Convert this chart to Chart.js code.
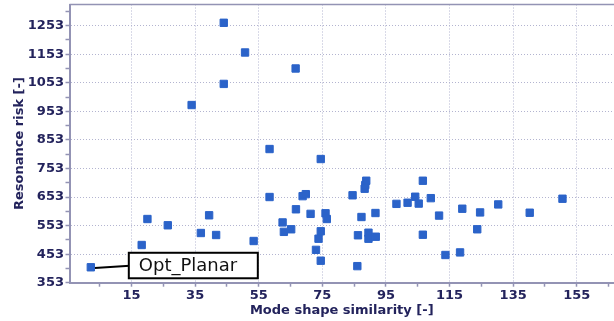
<!DOCTYPE html>
<html>
<head>
<meta charset="utf-8">
<script src="https://cdn.jsdelivr.net/npm/chart.js@4"></script>
<style>
  html, body { margin: 0; padding: 0; background: #fff; overflow: hidden; }
  canvas { display: block; }
</style>
</head>
<body>
<canvas id="chart" width="614" height="321"></canvas>
<script>
// ===== Mode shape similarity vs resonance risk =====

// One entry per design variant (first one is the planar optimum)
const similarity = [2.2, 18.2, 20.0, 26.4, 33.9, 36.8, 39.4, 41.6, 44.0, 44.0,
    50.7, 53.4, 58.4, 58.4, 62.5, 62.9, 65.2, 66.6, 66.7, 68.8,
    69.8, 71.3, 73.0, 73.8, 74.5, 74.5, 74.5, 76.0, 76.4, 84.5,
    86.0, 86.2, 87.3, 88.3, 88.5, 88.8, 89.5, 89.5, 91.7, 91.8,
    98.3, 101.8, 104.2, 105.3, 106.6, 106.6, 109.1, 111.7, 113.7, 118.3,
    119.0, 123.7, 124.6, 130.3, 140.2, 150.5];
const risk = [407, 485, 576, 554, 975, 527, 589, 520, 1263, 1049,
    1159, 499, 653, 821, 564, 531, 540, 1103, 610, 656,
    663, 594, 468, 507, 533, 430, 786, 596, 576, 659,
    411, 519, 583, 682, 695, 710, 528, 507, 597, 514,
    629, 633, 654, 630, 710, 521, 649, 588, 450, 459,
    612, 540, 599, 627, 598, 647];
const calloutIndex = 0;
const calloutText = "Opt_Planar";

// Axis ticks: labelled majors and unlabelled minors
const xMajor = [15, 35, 55, 75, 95, 115, 135, 155];
const xMinor = [5, 25, 45, 65, 85, 105, 125, 145, 165];
const yMajor = [353, 453, 553, 653, 753, 853, 953, 1053, 1153, 1253];
const yMinor = [403, 503, 603, 703, 803, 903, 1003, 1103, 1203, 1303];

const navy = "#23235c";
const axisColor = "#9393b4";
const gridColor = "#b3b4d0";
const pointColor = "#2b63c9";

const tickFont = { family: "DejaVu Sans", size: 13, weight: "bold" };
const titleFont = { family: "DejaVu Sans", size: 13, weight: "bold" };

function buildTicks(major, minor) {
    return major.concat(minor).sort((a, b) => a - b).map(v => ({ value: v }));
}

// thin frame line along the top of the plot
const topFrame = {
    id: "topFrame",
    afterDraw(chart) {
        const { ctx, chartArea: a } = chart;
        ctx.save();
        ctx.strokeStyle = axisColor;
        ctx.lineWidth = 1.5;
        ctx.beginPath();
        ctx.moveTo(a.left, a.top);
        ctx.lineTo(a.right, a.top);
        ctx.stroke();
        ctx.restore();
    }
};

// boxed label with a leader line to the highlighted design
const callout = {
    id: "callout",
    anchor(chart) {
        return {
            x: chart.scales.x.getPixelForValue(similarity[calloutIndex]),
            y: chart.scales.y.getPixelForValue(risk[calloutIndex])
        };
    },
    beforeDatasetsDraw(chart) {
        const p = this.anchor(chart);
        const ctx = chart.ctx;
        ctx.save();
        ctx.strokeStyle = "#000";
        ctx.lineWidth = 2;
        ctx.beginPath();
        ctx.moveTo(p.x, p.y + 1);
        ctx.lineTo(p.x + 39, p.y - 1.5);
        ctx.stroke();
        ctx.restore();
    },
    afterDatasetsDraw(chart) {
        const p = this.anchor(chart);
        const ctx = chart.ctx;
        const left = p.x + 38, top = p.y - 14.5, w = 129, h = 25.5;
        ctx.save();
        ctx.fillStyle = "#fff";
        ctx.fillRect(left, top, w, h);
        ctx.strokeStyle = "#000";
        ctx.lineWidth = 2;
        ctx.strokeRect(left, top, w, h);
        ctx.fillStyle = "#111";
        ctx.font = "18px 'DejaVu Sans'";
        ctx.textBaseline = "middle";
        ctx.fillText(calloutText, left + 10, top + h / 2 + 1);
        ctx.restore();
    }
};

const ctx = document.getElementById("chart").getContext("2d");
new Chart(ctx, {
    type: "scatter",
    data: {
        datasets: [{
            data: similarity.map((x, i) => ({ x: x, y: risk[i] })),
            backgroundColor: pointColor,
            borderColor: pointColor,
            borderWidth: 1,
            pointStyle: "rect",
            pointRadius: 5.2
        }]
    },
    options: {
        responsive: false,
        animation: false,
        devicePixelRatio: 1,
        layout: {
            autoPadding: false,
            padding: { top: 4.5, right: 0, bottom: 0, left: 0 }
        },
        plugins: {
            legend: { display: false },
            tooltip: { enabled: false }
        },
        scales: {
            x: {
                type: "linear",
                min: -4.5,
                max: 166.7,
                afterBuildTicks: s => { s.ticks = buildTicks(xMajor, xMinor); },
                afterFit: s => {
                    s.height = 38.3;
                    s.paddingLeft = 0;
                    s.paddingRight = 0;
                },
                ticks: {
                    autoSkip: false,
                    maxRotation: 0,
                    padding: 1,
                    color: navy,
                    font: tickFont,
                    callback: v => xMajor.includes(v) ? String(v) : ""
                },
                grid: {
                    color: c => xMajor.includes(c.tick.value) ? gridColor : "rgba(0,0,0,0)",
                    lineWidth: 1,
                    tickColor: axisColor,
                    tickLength: 4,
                    tickWidth: 1.5
                },
                border: { color: axisColor, width: 2, dash: [1, 2] },
                title: {
                    display: true,
                    text: "Mode shape similarity [-]",
                    color: navy,
                    font: titleFont,
                    padding: { top: 0, bottom: 2.2 }
                }
            },
            y: {
                type: "linear",
                min: 353,
                max: 1327,
                afterBuildTicks: s => { s.ticks = buildTicks(yMajor, yMinor); },
                afterFit: s => {
                    s.width = 69.5;
                    s.paddingTop = 0;
                    s.paddingBottom = 0;
                },
                ticks: {
                    autoSkip: false,
                    padding: 1.5,
                    color: navy,
                    font: tickFont,
                    callback: v => yMajor.includes(v) ? String(v) : ""
                },
                grid: {
                    color: c => yMajor.includes(c.tick.value) ? gridColor : "rgba(0,0,0,0)",
                    lineWidth: 1,
                    tickColor: axisColor,
                    tickLength: 4,
                    tickWidth: 1.5
                },
                border: { color: axisColor, width: 2, dash: [1, 2] },
                title: {
                    display: true,
                    text: "Resonance risk [-]",
                    color: navy,
                    font: titleFont,
                    padding: { top: 12, bottom: 0 }
                }
            }
        }
    },
    plugins: [topFrame, callout]
});
</script>
</body>
</html>
